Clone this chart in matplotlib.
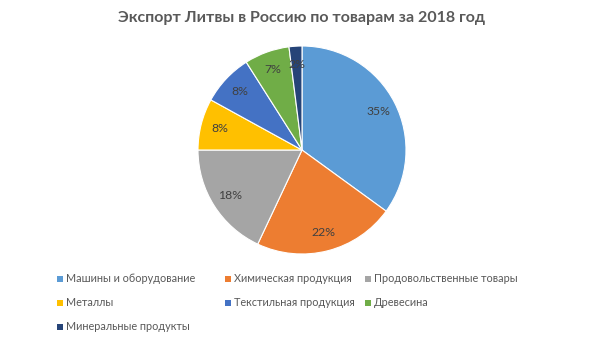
import matplotlib
matplotlib.use("Agg")
import matplotlib.pyplot as plt
from matplotlib.patches import Rectangle

categories = ["Машины и оборудование", "Химическая продукция", "Продовольственные товары",
              "Металлы", "Текстильная продукция", "Древесина", "Минеральные продукты"]
shares = [35, 22, 18, 8, 8, 7, 2]
colors = ["#5B9BD5", "#ED7D31", "#A5A5A5", "#FFC000", "#4472C4", "#70AD47", "#264478"]
title = "Экспорт Литвы в Россию по товарам за 2018 год"

W, H = 604, 341
fig = plt.figure(figsize=(W / 100, H / 100), dpi=100)
fig.patch.set_facecolor("white")

fig.text(302 / W, 1 - 18 / H, title, ha="center", va="center",
         fontsize=11.5, fontweight="bold", color="#595959", family="Lato")

# pie area: center (302,150), radius ~104 px
cx, cy, r = 302, 150, 104
ax = fig.add_axes([(cx - r) / W, 1 - (cy + r) / H, 2 * r / W, 2 * r / H])
wedges, _, autotexts = ax.pie(shares, colors=colors, startangle=90, counterclock=False,
                              autopct="%d%%", pctdistance=0.82,
                              wedgeprops=dict(edgecolor="white", linewidth=0.8),
                              textprops=dict(color="#404040", fontsize=8.8, family="Lato"))
ax.set_xlim(-1, 1)
ax.set_ylim(-1, 1)
ax.set_aspect("equal")
ax.axis("off")

# legend, 3 columns
col_x = [57, 225, 365]
row_y = [279, 303, 327]
for i, (name, c) in enumerate(zip(categories, colors)):
    x = col_x[i % 3]
    y = row_y[i // 3]
    fig.patches.append(Rectangle((x / W, 1 - (y + 3) / H), 6 / W, 6 / H,
                                 transform=fig.transFigure, facecolor=c, edgecolor="none"))
    fig.text((x + 9) / W, 1 - y / H, name, ha="left", va="center",
             fontsize=7.8, color="#595959", family="Lato")

fig.savefig("out.png", dpi=100, facecolor="white")
